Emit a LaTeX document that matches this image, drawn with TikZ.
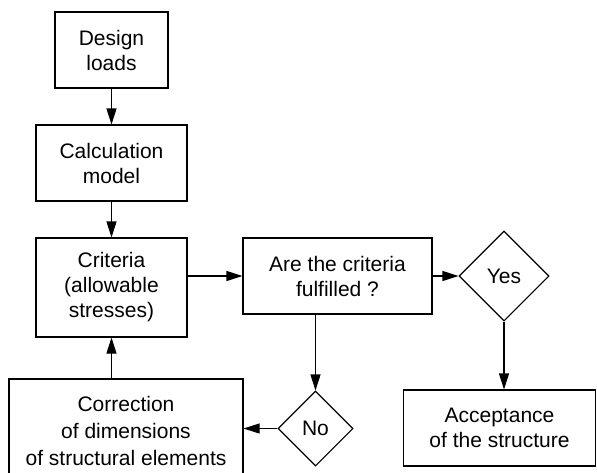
\documentclass[tikz,border=0pt]{standalone}
\usepackage{fontspec}
\setmainfont{Liberation Sans}
\usetikzlibrary{arrows.meta,shapes.geometric}

\begin{document}
\begin{tikzpicture}[x=1pt,y=-1pt,->,>={Triangle[length=16pt,width=10pt]},
                    line width=1.1pt,
                    font=\fontsize{21}{25}\selectfont]

  \tikzstyle{box}=[rectangle,draw,align=center,inner sep=0pt]
  \tikzstyle{decision}=[diamond,draw,align=center,inner sep=0pt]

  \useasboundingbox (0,0) rectangle (597,472);

  \node[box,minimum width=113pt,minimum height=76pt] (design) at (111.5,50)  {Design\\loads};
  \node[box,minimum width=151pt,minimum height=76pt] (calc)   at (111.5,163) {Calculation\\model};
  \node[box,minimum width=151pt,minimum height=99pt] (crit)   at (111.5,287.5) {Criteria\\(allowable\\stresses)};
  \node[box,minimum width=189pt,minimum height=76pt] (check)  at (337.5,276) {Are the criteria\\fulfilled ?};
  \node[decision,minimum width=90pt,minimum height=90pt] (yes) at (504,276) {Yes};
  \node[decision,minimum width=75pt,minimum height=75pt] (no)  at (315.5,428.5) {No};
  \node[box,minimum width=192pt,minimum height=76pt] (accept) at (499.5,428) {Acceptance\\of the structure};
  \node[box,minimum width=234pt,minimum height=104pt] (corr)  at (126,431)
       {Correction\\[2pt]of dimensions\\[2pt]of structural elements};

  \draw (design) -- (calc);
  \draw (calc) -- (crit);
  \draw (crit.east |- check.west) -- (check.west);
  \draw (check) -- (yes);
  \draw (no.north |- check.south) -- (no.north);
  \draw (yes.south) -- (yes.south |- accept.north);
  \draw (no.west) -- (no.west -| corr.east);
  \draw (crit.south |- corr.north) -- (crit.south);
\end{tikzpicture}
\end{document}
